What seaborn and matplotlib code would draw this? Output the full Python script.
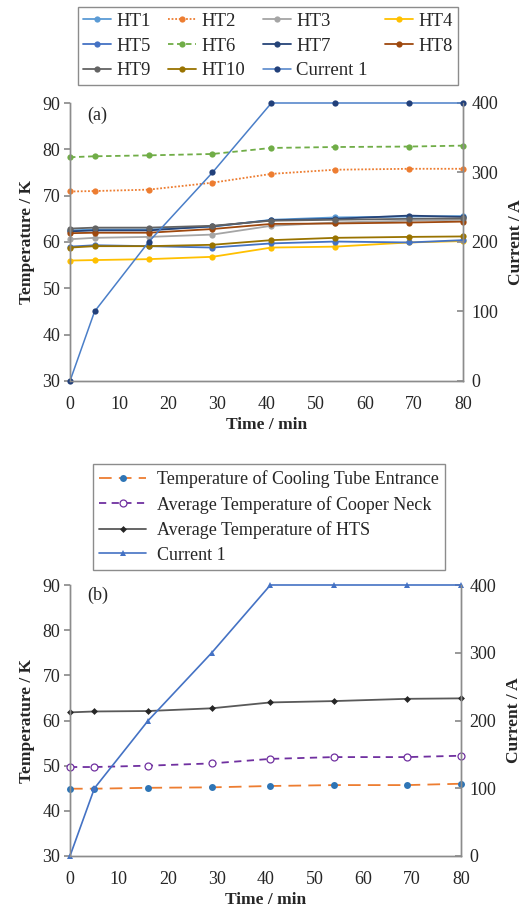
import numpy as np
import pandas as pd
import matplotlib
matplotlib.use("Agg")
import matplotlib.pyplot as plt
import seaborn as sns

# ---------------- data ----------------
time_min = [0, 5, 16, 29, 41, 54, 69, 80]
current_1 = [0, 100, 200, 300, 400, 400, 400, 400]

ht1 = [62.5, 62.7, 62.7, 63.3, 64.8, 65.3, 65.5, 65.6]
ht2 = [70.9, 71.0, 71.3, 72.8, 74.7, 75.6, 75.8, 75.8]
ht3 = [60.6, 60.9, 61.1, 61.6, 63.5, 64.2, 64.6, 64.8]
ht4 = [56.0, 56.1, 56.3, 56.8, 58.8, 59.0, 59.9, 60.2]
ht5 = [59.0, 59.3, 59.1, 58.8, 59.7, 60.1, 59.9, 60.4]
ht6 = [78.3, 78.5, 78.7, 79.0, 80.3, 80.5, 80.6, 80.8]
ht7 = [62.3, 62.5, 62.5, 63.4, 64.7, 65.0, 65.7, 65.4]
ht8 = [61.9, 62.0, 62.0, 62.8, 63.9, 64.0, 64.2, 64.4]
ht9 = [62.9, 63.1, 63.1, 63.5, 64.6, 64.8, 65.0, 65.1]
ht10 = [58.8, 59.1, 59.1, 59.4, 60.4, 60.9, 61.1, 61.2]

cooling_tube_entrance = [44.9, 44.9, 45.1, 45.2, 45.5, 45.7, 45.7, 46.0]
copper_neck_avg = [49.7, 49.7, 50.0, 50.5, 51.5, 51.9, 51.9, 52.2]
hts_avg = [61.8, 62.0, 62.1, 62.7, 64.0, 64.3, 64.8, 64.9]

ht_names = ["HT1", "HT2", "HT3", "HT4", "HT5", "HT6", "HT7", "HT8", "HT9", "HT10"]
ht_values = [ht1, ht2, ht3, ht4, ht5, ht6, ht7, ht8, ht9, ht10]

x_ticks = [0, 10, 20, 30, 40, 50, 60, 70, 80]
t_ticks = [30, 40, 50, 60, 70, 80, 90]
i_ticks = [0, 100, 200, 300, 400]

# ---------------- style ----------------
sns.set_theme(style="white")
plt.rcParams["font.family"] = ["Liberation Serif", "DejaVu Serif"]

ht_colors = ["#5B9BD5", "#ED7D31", "#A5A5A5", "#FFC000", "#4472C4",
             "#70AD47", "#264478", "#9E480E", "#636363", "#997300"]
ht_styles = ["-", (0, (1, 1)), "-", "-", "-", (0, (3, 2)), "-", "-", "-", "-"]

W, H = 529, 914
fig = plt.figure(figsize=(W / 100, H / 100), dpi=100)

spine_col = "#8c8c8c"
tick_fs = 13
lab_fs = 12.5


def style_axes(ax, ax2):
    ax.set_xlim(0, 80)
    ax.set_ylim(30, 90)
    ax2.set_ylim(0, 400)
    ax.set_xticks(x_ticks)
    ax.set_yticks(t_ticks)
    ax2.set_yticks(i_ticks)
    for a in (ax, ax2):
        for s in a.spines.values():
            s.set_color(spine_col)
            s.set_linewidth(1.0)
        a.set_facecolor("none")
    ax.spines["top"].set_visible(False)
    ax2.spines["top"].set_visible(False)
    ax.tick_params(axis="x", direction="in", length=4, color=spine_col,
                   labelsize=tick_fs, pad=11)
    ax.tick_params(axis="y", direction="out", length=4, color=spine_col,
                   labelsize=tick_fs, pad=3, left=True)
    ax2.tick_params(axis="y", direction="in", length=4, color=spine_col,
                    labelsize=tick_fs, pad=6, right=True)
    ax.set_xlabel("Time / min", fontsize=lab_fs, fontweight="bold", labelpad=3)
    ax.set_ylabel("Temperature / K", fontsize=lab_fs, fontweight="bold", labelpad=5)
    ax2.set_ylabel("Current / A", fontsize=lab_fs, fontweight="bold", labelpad=7)
    ax.grid(False)
    ax2.grid(False)


# ---------------- panel (a) ----------------
axA = fig.add_axes([70 / W, 1 - 381 / H, 393 / W, 278 / H])
axA2 = axA.twinx()
handles = {}
for name, vals, col, ls in zip(ht_names, ht_values, ht_colors, ht_styles):
    sns.lineplot(x=time_min, y=vals, ax=axA, color=col, linestyle=ls,
                 linewidth=1.3, marker="o", markersize=4.5, markeredgewidth=0,
                 label=name, legend=False, clip_on=False)
    handles[name] = axA.lines[-1]
sns.lineplot(x=time_min, y=current_1, ax=axA2, color="#4A7EC8", linewidth=1.1,
             marker="o", markersize=4.5, markerfacecolor="#22407A",
             markeredgewidth=0, label="Current 1", legend=False, clip_on=False)
handles["Current 1"] = axA2.lines[-1]
style_axes(axA, axA2)
axA.text(0.045, 0.955, "(a)", transform=axA.transAxes, fontsize=tick_fs,
         ha="left", va="center")

orderA = ["HT1", "HT5", "HT9", "HT2", "HT6", "HT10", "HT3", "HT7", "Current 1", "HT4", "HT8"]
legA = fig.legend([handles[k] for k in orderA], orderA, ncol=4,
                  loc="center", bbox_to_anchor=(268 / W, 1 - 46 / H),
                  fontsize=13.5, frameon=True, fancybox=False, edgecolor="#707070",
                  handlelength=1.5, handletextpad=0.3, columnspacing=0.9,
                  labelspacing=0.4, borderpad=0.3)
legA.get_frame().set_linewidth(1.0)

# ---------------- panel (b) ----------------
axB = fig.add_axes([70 / W, 1 - 856 / H, 391 / W, 271 / H])
axB2 = axB.twinx()
sns.lineplot(x=time_min, y=cooling_tube_entrance, ax=axB, color="#ED7D31",
             linestyle=(0, (7, 4)), linewidth=1.3, marker="o", markersize=5,
             markerfacecolor="#2E75B6", markeredgewidth=0,
             label="Temperature of Cooling Tube Entrance", legend=False, clip_on=False)
hB1 = axB.lines[-1]
sns.lineplot(x=time_min, y=copper_neck_avg, ax=axB, color="#7030A0",
             linestyle=(0, (4, 3)), linewidth=1.3, marker="o", markersize=5,
             markerfacecolor="white", markeredgecolor="#7030A0", markeredgewidth=0.9,
             label="Average Temperature of Cooper Neck", legend=False, clip_on=False)
hB2 = axB.lines[-1]
sns.lineplot(x=time_min, y=hts_avg, ax=axB, color="#595959", linewidth=1.3,
             marker="D", markersize=3.5, markerfacecolor="#262626",
             markeredgewidth=0, label="Average Temperature of HTS", legend=False,
             clip_on=False)
hB3 = axB.lines[-1]
sns.lineplot(x=time_min, y=current_1, ax=axB2, color="#4472C4", linewidth=1.2,
             marker="^", markersize=5, markeredgewidth=0,
             label="Current 1", legend=False, clip_on=False)
hB4 = axB2.lines[-1]
style_axes(axB, axB2)
axB.text(0.045, 0.96, "(b)", transform=axB.transAxes, fontsize=tick_fs,
         ha="left", va="center")

labelsB = ["Temperature of Cooling Tube Entrance", "Average Temperature of Cooper Neck",
           "Average Temperature of HTS", "Current 1"]
legB = fig.legend([hB1, hB2, hB3, hB4], labelsB, ncol=1,
                  loc="center", bbox_to_anchor=(269 / W, 1 - 517 / H),
                  fontsize=13, frameon=True, fancybox=False, edgecolor="#707070",
                  handlelength=2.6, handletextpad=0.6, labelspacing=0.42,
                  borderpad=0.35)
legB.get_frame().set_linewidth(1.0)

fig.savefig("out.png", dpi=100, facecolor="white")
